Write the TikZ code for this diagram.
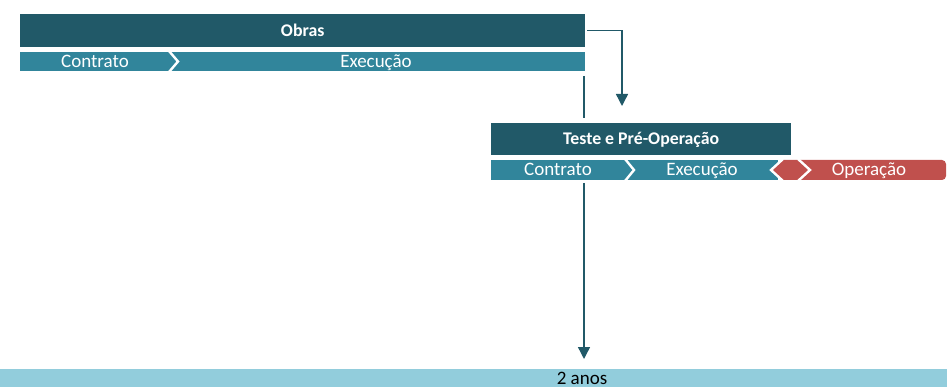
\documentclass[tikz,border=0pt]{standalone}
\usepackage{fontspec}
\setmainfont{Carlito}
\usetikzlibrary{arrows.meta}
\definecolor{obrasDark}{RGB}{33,89,104}
\definecolor{faseBlue}{RGB}{49,133,155}
\definecolor{operRed}{RGB}{192,80,77}
\definecolor{anosBlue}{RGB}{146,205,220}
\newcommand{\titleFont}[0]{\fontsize{17.8}{17.8}\selectfont\bfseries}
\newcommand{\rowFont}[0]{\fontsize{19}{19}\selectfont}

\begin{document}
\begin{tikzpicture}[x=1pt, y=-1pt]
  \tikzset{faseTitle/.style={fill=obrasDark,text=white,font=\titleFont,inner sep=0,anchor=north west,text height=12.5pt,text depth=1pt},
           faseLabel/.style={text=white,font=\rowFont,inner sep=0,text height=13pt,text depth=1pt},
           divider/.style={draw=white,line width=2.4pt},
           linkLine/.style={draw=obrasDark,line width=1.4pt},
           linkArrow/.style={linkLine,-{Triangle[width=12pt,length=12pt]}}}
  \useasboundingbox (0,0) rectangle (947,387);
  \node[faseTitle,minimum width=565,minimum height=33] (obras) at (20,14) {Obras};
  \fill[faseBlue] (20,52) rectangle (585,71);
  \draw[divider] (169,51) -- (178,61.5) -- (169,72);
  \node[faseLabel] (contratoA) at (95,61.5) {Contrato};
  \node[faseLabel] (execucaoA) at (376,61.5) {Execução};
  \node[faseTitle,minimum width=300,minimum height=32] (teste) at (491,123) {Teste e Pré-Operação};
  \fill[faseBlue] (491,160) rectangle (778,180);
  \fill[operRed] (770,170) -- (783,160) [rounded corners=4] -- (946,160) -- (946,180) [sharp corners] -- (783,180) -- cycle;
  \draw[divider] (625,159) -- (634,170) -- (625,181);
  \draw[divider] (783,159) -- (771,170) -- (783,181);
  \draw[divider] (798,159) -- (810,170) -- (798,181);
  \node[faseLabel] (contratoB) at (558,170) {Contrato};
  \node[faseLabel] (execucaoB) at (702,170) {Execução};
  \node[faseLabel] (operacao) at (869,170) {Operação};
  \fill[anosBlue] (0,369) rectangle (947,387);
  \node[font=\rowFont,inner sep=0,text height=13pt,text depth=1pt] (anos) at (582,378) {2 anos};
  \coordinate (obrasTip) at (622,106);
  \coordinate (execDown) at (584,76);
  \coordinate (testeUp) at (584,118);
  \coordinate (testeDown) at (584,183);
  \coordinate (anosTip) at (584,359);
  \draw[linkArrow] ([xshift=2pt]obras.east) -| (obrasTip);
  \draw[linkLine] (execDown) -- (testeUp);
  \draw[linkArrow] (testeDown) -- (anosTip);
\end{tikzpicture}
\end{document}
